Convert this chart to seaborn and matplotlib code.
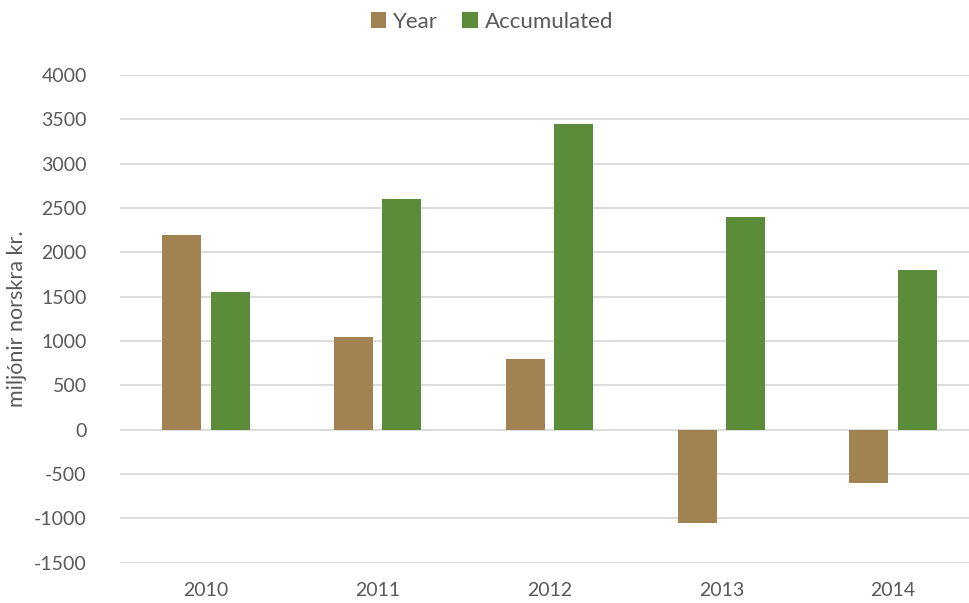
import pandas as pd
import matplotlib.pyplot as plt
import seaborn as sns

# Chart data
years = ["2010", "2011", "2012", "2013", "2014"]
year_values = [2200, 1050, 800, -1050, -600]
accumulated_values = [1550, 2600, 3450, 2400, 1800]
series_names = ["Year", "Accumulated"]
y_ticks = [-1500, -1000, -500, 0, 500, 1000, 1500, 2000, 2500, 3000, 3500, 4000]

df = pd.DataFrame({
    "ar": years * 2,
    "value": year_values + accumulated_values,
    "series": [series_names[0]] * len(years) + [series_names[1]] * len(years),
})

sns.set_style("white")
plt.rcParams['font.family'] = ['Lato', 'DejaVu Sans']

fig = plt.figure(figsize=(9.7, 6.03), dpi=100)
ax = fig.add_axes([120 / 970, 40.3 / 603, 859 / 970, 487.7 / 603])

palette = {"Year": "#A08350", "Accumulated": "#5B8C39"}
sns.barplot(data=df, x="ar", y="value", hue="series", palette=palette,
            width=0.565, gap=0.196, saturation=1, linewidth=0, ax=ax, zorder=3)

ax.set_ylim(-1500, 4000)
ax.set_yticks(y_ticks)
ax.set_yticklabels([str(t) for t in y_ticks])
ax.set_xlim(-0.5, len(years) - 0.5)
ax.grid(axis="y", color="#D9D9D9", linewidth=1.3, zorder=0)
ax.grid(axis="x", visible=False)
for s in ax.spines.values():
    s.set_visible(False)
ax.tick_params(axis="both", length=0, labelsize=14, labelcolor="#595959")
ax.tick_params(axis="y", pad=24)
ax.tick_params(axis="x", pad=14)
ax.set_xlabel("")
ax.set_ylabel("miljónir norskra kr.", fontsize=15.5, color="#595959", labelpad=5)

handles, labels = ax.get_legend_handles_labels()
ax.get_legend().remove()
fig.legend(handles, labels, loc="center", bbox_to_anchor=(0.507, 0.9635), ncol=2,
           frameon=False, fontsize=16, labelcolor="#595959",
           handlelength=0.7, handleheight=0.7, handletextpad=0.3, columnspacing=1.1)

fig.savefig("out.png", dpi=100)
